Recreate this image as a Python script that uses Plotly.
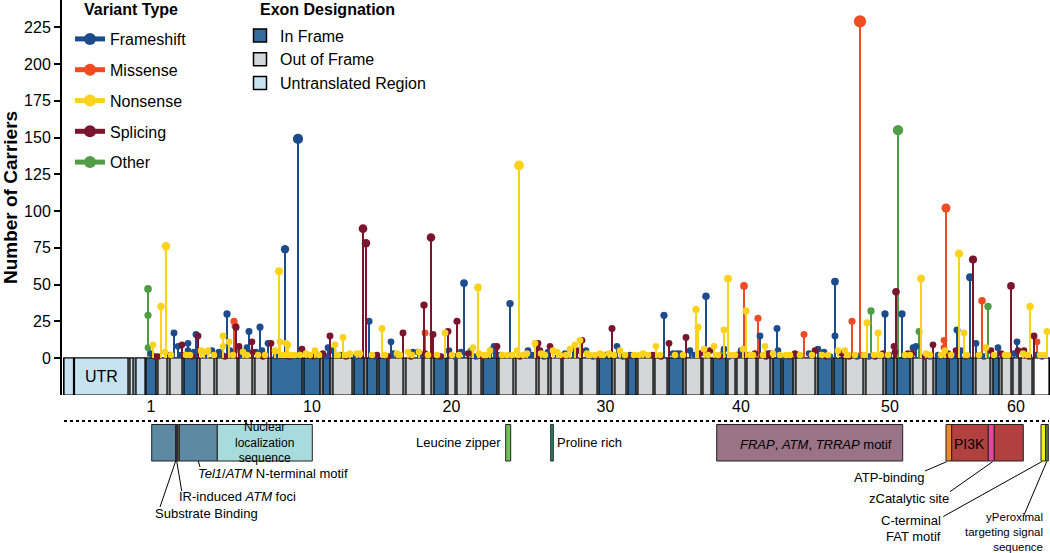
import plotly.graph_objects as go

# ---------------- data ----------------
# exon blocks along the transcript (position units)
exon_start = [146, 158, 170, 184, 200, 217, 239, 255, 271, 304, 323, 333, 354, 367, 379, 389, 406, 424, 434, 448,
              457, 471, 483, 499, 516, 539, 551, 563, 582, 599, 615, 628, 638, 655, 669, 686, 703, 713, 728, 737,
              747, 758, 773, 783, 796, 818, 834, 846, 866, 886, 897, 913, 926, 936, 949, 961, 976, 993, 1002, 1013,
              1021, 1034]
exon_end = [156, 167, 182, 197, 214, 237, 252, 268, 302, 320, 330, 352, 364, 377, 387, 403, 422, 431, 446, 455,
            468, 481, 497, 513, 536, 548, 561, 580, 597, 612, 626, 636, 653, 667, 683, 701, 711, 726, 735, 745,
            756, 770, 781, 793, 815, 832, 843, 863, 883, 894, 910, 923, 933, 947, 958, 973, 990, 999, 1011, 1019,
            1032, 1049]
# I = in frame, O = out of frame, W = 3' end (white)
exon_frame = list("IOOIOOOOII" "IOIIIOOOIO" "OOIOOOOOOI" "OIOOIOOIOO" "OOIIOIIOOI" "IOOIIIOIOO" "OW")
utr5_start = [64, 74.5, 130, 136]
utr5_end = [73.5, 128, 133, 145]
exon_ticks = [1, 10, 20, 30, 40, 50, 60]

# Frameshift
fs_pos = [151, 174, 178, 188, 188, 194, 196, 212, 219, 227, 230, 247, 249, 256, 260, 262, 268, 285, 298, 328,
          333, 369, 391, 393, 413, 418, 449, 461, 464, 491, 494, 496, 510, 528, 548, 565, 573, 586, 605, 617,
          630, 664, 673, 677, 680, 690, 706, 724, 741, 760, 768, 777, 778, 809, 818, 824, 835, 835, 885, 902,
          913, 916, 938, 957, 961, 970, 976, 998, 1014, 1017,
          181, 206, 222, 241, 276, 291, 318, 326, 340, 356, 375, 398, 421, 441, 455, 476, 500, 532, 544, 558,
          593, 623, 645, 695, 729, 749, 784, 799, 830, 857, 869, 889, 930, 940, 952, 984, 1004, 1037, 1042]
fs_n = [3, 17, 8, 10, 5, 4, 16, 5, 4, 30, 5, 7, 18, 4, 21, 5, 10, 74, 149, 7,
        5, 25, 11, 3, 4, 4, 5, 4, 51, 5, 8, 7, 37, 5, 4, 3, 6, 5, 2, 8,
        2, 29, 3, 3, 3, 5, 42, 6, 5, 15, 3, 20, 5, 3, 6, 4, 52, 15, 30, 30,
        7, 8, 2, 19, 5, 55, 10, 7, 3, 11,
        2, 2, 2, 2, 1, 1, 2, 1, 2, 1, 1, 2, 2, 1, 1, 1, 2, 2, 1, 2,
        1, 1, 2, 2, 1, 2, 1, 2, 1, 1, 1, 2, 1, 1, 1, 1, 2, 2, 1]

# Missense
ms_pos = [234, 235, 425, 480, 744, 758, 804, 852, 860, 861, 944, 944, 946, 982, 1037]
ms_n = [25, 22, 17, 2, 49, 27, 16, 25, 229, 2, 12, 7, 102, 39, 11]

# Nonsense
ns_pos = [153, 161, 165, 166, 201, 204, 208, 223, 223, 229, 243, 275, 279, 280, 286, 288, 306, 315, 335, 343,
          350, 357, 360, 382, 397, 408, 419, 445, 473, 478, 479, 486, 490, 517, 519, 527, 535, 541, 553, 557,
          570, 575, 580, 587, 595, 600, 609, 620, 643, 656, 696, 698, 704, 714, 724, 728, 743, 746, 765, 773,
          780, 822, 838, 845, 867, 878, 921, 926, 945, 959, 964, 986, 1023, 1030, 1047,
          171, 186, 190, 214, 233, 247, 258, 265, 283, 291, 295, 300, 310, 319, 338, 346, 372, 385, 400, 412,
          428, 437, 452, 459, 484, 502, 507, 512, 523, 545, 560, 566, 590, 603, 614, 625, 634, 639, 648, 660,
          675, 683, 708, 718, 731, 735, 750, 753, 763, 786, 790, 800, 812, 828, 848, 855, 864, 874, 881, 888,
          905, 910, 930, 941, 951, 967, 979, 994, 1005, 1008, 1027, 1040, 1044]
ns_n = [9, 35, 4, 76, 5, 4, 5, 15, 8, 11, 4, 5, 59, 11, 10, 9, 3, 5, 9, 14,
        3, 3, 3, 20, 3, 4, 4, 17, 7, 48, 3, 2, 5, 5, 131, 3, 10, 3, 5, 4,
        6, 9, 12, 3, 2, 3, 3, 5, 3, 8, 33, 21, 6, 8, 19, 54, 6, 32, 8, 3,
        2, 2, 5, 5, 24, 17, 54, 3, 5, 71, 17, 7, 3, 35, 18,
        2, 2, 2, 2, 2, 2, 2, 2, 2, 2, 2, 2, 2, 2, 2, 2, 2, 2, 2, 2,
        2, 2, 2, 2, 2, 2, 2, 2, 2, 2, 2, 2, 2, 2, 2, 2, 2, 2, 2, 2,
        2, 2, 2, 2, 2, 2, 2, 2, 2, 2, 2, 2, 2, 2, 2, 2, 2, 2, 2, 2,
        2, 2, 2, 2, 2, 2, 2, 2, 2, 2, 2, 2, 2]

# Splicing
sp_pos = [155, 158, 170, 182, 186, 198, 215, 236, 239, 252, 253, 271, 302, 323, 330, 363, 366, 377, 403, 424,
          425, 431, 433, 448, 457, 468, 497, 537, 538, 540, 550, 577, 582, 612, 653, 669, 686, 700, 710, 737,
          745, 755, 770, 795, 815, 842, 883, 894, 895, 896, 908, 912, 933, 948, 956, 973, 991, 1001, 1011, 1018,
          1024, 1034,
          192, 225, 263, 289, 313, 346, 388, 411, 440, 482, 520, 562, 598, 627, 661, 720, 766, 790, 826, 849,
          875, 925, 966, 1029]
sp_n = [1, 1, 2, 9, 2, 15, 2, 21, 8, 11, 4, 10, 6, 3, 15, 88, 78, 2, 17, 36,
        3, 82, 16, 18, 25, 3, 8, 8, 10, 5, 8, 5, 12, 20, 2, 10, 14, 3, 5, 2,
        2, 3, 3, 3, 5, 3, 3, 8, 4, 45, 3, 3, 9, 3, 5, 67, 5, 3, 49, 5,
        5, 15,
        1, 1, 1, 1, 1, 1, 1, 1, 1, 1, 1, 1, 1, 1, 1, 1, 1, 1, 1, 1,
        1, 1, 1, 1]

# Other
ot_pos = [148, 148, 148, 240, 471, 692, 723, 871, 896, 898, 919, 988]
ot_n = [47, 29, 7, 5, 5, 2, 3, 32, 5, 155, 18, 35]

variant_names = ["Frameshift", "Missense", "Nonsense", "Splicing", "Other"]
variant_colors = ["#1d4c8c", "#f04b23", "#fcd21c", "#7a1530", "#4f9e45"]

exon_legend = ["In Frame", "Out of Frame", "Untranslated Region"]
exon_colors = {"I": "#336c9c", "O": "#d5d6d8", "U": "#c6e2f1", "W": "#ffffff"}

# functional domains (position units)
dom_start = [151.7, 175.7, 177.3, 179.3, 217.3, 505.7, 550.7, 716.7, 946.0, 951.7, 988.3, 994.3, 1041.0, 1045.7]
dom_end = [175.7, 177.3, 179.3, 217.3, 312.3, 510.7, 553.3, 902.7, 951.7, 988.3, 994.3, 1023.3, 1045.7, 1048.3]
dom_color = ["#5d89a3", "#4a2f6e", "#6e6a33", "#5d89a3", "#a8dcdc", "#72c058", "#2e8a68", "#9a7386",
             "#ef8a2c", "#b2403f", "#df4a9c", "#b2403f", "#f3ee1c", "#4f8a4a"]

# ---------------- figure ----------------
W, H = 1050, 553
Y_ZERO_PX, PX_PER_UNIT, STRIP_BOTTOM_PX = 358.0, 1.47, 395.0
y_top = Y_ZERO_PX / PX_PER_UNIT
y_bot = -(STRIP_BOTTOM_PX - Y_ZERO_PX) / PX_PER_UNIT
FONT = "Liberation Sans, Arial, sans-serif"
X0, X1 = 62, 1050

fig = go.Figure()


def msize(v):
    return 6.5 + 0.025 * v


series = {
    "Frameshift": (fs_pos, fs_n),
    "Missense": (ms_pos, ms_n),
    "Nonsense": (ns_pos, ns_n),
    "Splicing": (sp_pos, sp_n),
    "Other": (ot_pos, ot_n),
}
draw_order = ["Other", "Missense", "Frameshift", "Splicing", "Nonsense"]
for name in draw_order:
    pos, n = series[name]
    i = variant_names.index(name)
    xs, ys, ss = [], [], []
    for p, v in zip(pos, n):
        xs += [p, p, None]
        ys += [0, v, None]
        ss += [0, msize(v), 0]
    fig.add_trace(go.Scatter(
        x=xs, y=ys, mode="lines+markers", name=name,
        line=dict(color=variant_colors[i], width=2),
        marker=dict(color=variant_colors[i], size=ss, opacity=1, line=dict(width=0)),
        legend="legend", legendgroup=name, legendrank=i + 1,
        hoverinfo="skip",
    ))

for j, (lab, key) in enumerate(zip(exon_legend, ["I", "O", "U"])):
    fig.add_trace(go.Scatter(
        x=[None], y=[None], mode="markers", name=lab,
        marker=dict(symbol="square", size=13, color=exon_colors[key], line=dict(color="black", width=1.5)),
        legend="legend2", legendrank=j + 1, hoverinfo="skip",
    ))

shapes = []
# strip background
shapes.append(dict(type="rect", xref="x", yref="y", x0=63.5, x1=1049.5, y0=y_bot, y1=0,
                   fillcolor="#8a8a8a", line=dict(color="black", width=1), layer="below"))
for s, e in zip(utr5_start, utr5_end):
    shapes.append(dict(type="rect", xref="x", yref="y", x0=s, x1=e, y0=y_bot, y1=0,
                       fillcolor=exon_colors["U"], line=dict(color="black", width=1.2), layer="below"))
for s, e, f in zip(exon_start, exon_end, exon_frame):
    shapes.append(dict(type="rect", xref="x", yref="y", x0=s, x1=e, y0=y_bot, y1=0,
                       fillcolor=exon_colors[f], line=dict(color="black", width=1.2), layer="below"))

# dotted separator
shapes.append(dict(type="line", xref="x", yref="y2", x0=64, x1=1049, y0=421, y1=421,
                   line=dict(color="black", width=2, dash="dot")))
# domains
for s, e, c in zip(dom_start, dom_end, dom_color):
    shapes.append(dict(type="rect", xref="x", yref="y2", x0=s, x1=e, y0=424.5, y1=461,
                       fillcolor=c, line=dict(color="#222222", width=1)))
# leader lines
leaders = [(175.7, 461, 160, 507), (176.7, 461, 181.7, 491), (198.3, 461, 200, 467),
           (946.7, 461.7, 925, 471), (992.7, 461.7, 950, 491.7), (1041.7, 461.7, 943.3, 516.5),
           (1046.7, 461.7, 1023.3, 516.7)]
for x0, y0, x1, y1 in leaders:
    shapes.append(dict(type="line", xref="x", yref="y2", x0=x0, y0=y0, x1=x1, y1=y1,
                       line=dict(color="black", width=1)))

ann = []


def txt(t, x, y, xa="center", size=13, bold=False, yref="y2", xref="x", h=None, align="center"):
    a = dict(text=("<b>%s</b>" % t) if bold else t, x=x, y=y, xref=xref, yref=yref,
             xanchor=xa, yanchor="middle", showarrow=False, borderpad=0, align=align,
             font=dict(family=FONT, size=size, color="black"))
    if h is not None:
        a["height"] = h
    ann.append(a)


txt("UTR", 101, y_bot / 2, size=16, yref="y")
txt("Exon", 60, 407, xa="left", size=16, bold=True)
txt("Functional", 60, 435, xa="left", size=16, bold=True, h=17)
txt("Domains", 60, 453, xa="left", size=16, bold=True, h=17)
txt("Nuclear<br>localization<br>sequence", 264.8, 442.3, size=12)
txt("<i>Tel1</i>/<i>ATM</i> N-terminal motif", 196.7, 473, xa="left")
txt("IR-induced <i>ATM</i> foci", 177.7, 496, xa="left")
txt("Substrate Binding", 154, 513, xa="left")
txt("Leucine zipper", 502, 442, xa="right")
txt("Proline rich", 556, 442, xa="left")
txt("<i>FRAP</i>, <i>ATM</i>, <i>TRRAP</i> motif", 816, 444)
txt("PI3K", 969.5, 444, size=14)
txt("ATP-binding", 926, 477, xa="right")
txt("zCatalytic site", 949.5, 498, xa="right")
txt("C-terminal", 941.7, 520, xa="right", h=15)
txt("FAT motif", 941.7, 536, xa="right", h=15)
txt("yPeroximal<br>targeting signal<br>sequence", 1044, 532, xa="right", size=11.5, align="right")

# legend titles (paper coordinates)
for t, xpx in [("Variant Type", 82), ("Exon Designation", 258)]:
    ann.append(dict(text="<b>%s</b>" % t, x=(xpx - X0) / (X1 - X0), y=1 - 9 / H, xref="paper", yref="paper",
                    xanchor="left", yanchor="middle", showarrow=False,
                    font=dict(family=FONT, size=16, color="black")))

tick_x = [(exon_start[k - 1] + exon_end[k - 1]) / 2 for k in exon_ticks]

fig.update_layout(
    width=W, height=H,
    margin=dict(l=X0, r=W - X1, t=0, b=0, autoexpand=False),
    paper_bgcolor="white", plot_bgcolor="white",
    font=dict(family=FONT, size=16, color="black"),
    showlegend=True,
    xaxis=dict(range=[X0, X1], showgrid=False, zeroline=False, showline=False, ticks="",
               tickvals=tick_x, ticktext=[str(k) for k in exon_ticks], tickfont=dict(size=16),
               anchor="y", fixedrange=True, automargin=False),
    yaxis=dict(domain=[1 - STRIP_BOTTOM_PX / H, 1], range=[y_bot, y_top], showgrid=False, zeroline=False,
               showline=True, linecolor="black", linewidth=2, ticks="outside", ticklen=6, tickwidth=1.5,
               tickcolor="black", tickvals=[0, 25, 50, 75, 100, 125, 150, 175, 200, 225],
               tickfont=dict(size=16), automargin=False, fixedrange=True,
               title=dict(text="<b>Number of Carriers</b>", font=dict(size=19), standoff=4)),
    yaxis2=dict(domain=[0, 1 - STRIP_BOTTOM_PX / H], range=[H, STRIP_BOTTOM_PX], visible=False, anchor="x",
                fixedrange=True),
    legend=dict(x=(70 - X0) / (X1 - X0), y=1 - 22 / H, xanchor="left", yanchor="top",
                font=dict(size=16), tracegroupgap=7, itemsizing="constant",
                bgcolor="rgba(0,0,0,0)", borderwidth=0),
    legend2=dict(x=(240 - X0) / (X1 - X0), y=1 - 18.5 / H, xanchor="left", yanchor="top",
                 font=dict(size=16), tracegroupgap=0, itemsizing="trace",
                 bgcolor="rgba(0,0,0,0)", borderwidth=0),
    shapes=shapes, annotations=ann,
)

fig.write_html("out.html", config={"displayModeBar": False},
               post_script="document.body.style.margin='0';document.body.style.padding='0';")
